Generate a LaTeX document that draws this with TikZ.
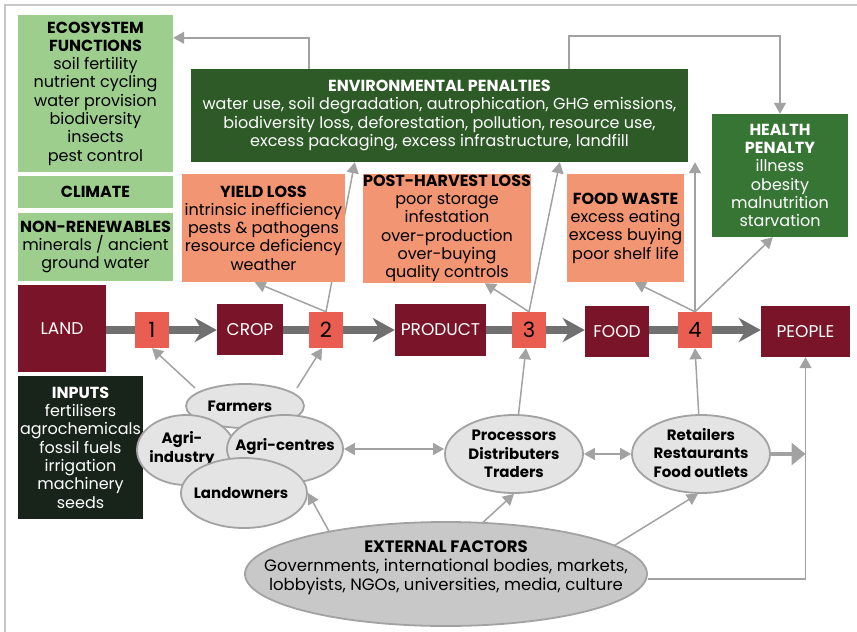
\documentclass[tikz,border=0pt]{standalone}
\usepackage{fontspec}
\setmainfont{Poppins}
\usetikzlibrary{arrows.meta,shapes.geometric,calc}
\pgfdeclarelayer{bg}
\pgfsetlayers{bg,main}

\definecolor{ecogreen}{RGB}{158,206,142}
\definecolor{envgreen}{RGB}{45,90,39}
\definecolor{healthgreen}{RGB}{54,117,52}
\definecolor{losssalmon}{RGB}{242,149,115}
\definecolor{stagered}{RGB}{233,94,80}
\definecolor{maroon}{RGB}{122,20,40}
\definecolor{inputdark}{RGB}{24,36,26}
\definecolor{linkgray}{RGB}{162,162,162}
\definecolor{bandgray}{RGB}{112,112,112}
\definecolor{actorfill}{RGB}{228,228,228}
\definecolor{extfill}{RGB}{200,200,200}
\definecolor{framegray}{RGB}{200,200,200}

\newcommand{\bodyfont}{\fontsize{16}{18.3}\selectfont}
\newcommand{\rowfont}{\fontsize{17}{18}\selectfont}
\newcommand{\numfont}{\fontsize{21}{22}\selectfont}
\newcommand{\actorfont}{\fontsize{15}{18.5}\selectfont\bfseries}

\tikzset{
  panel/.style={inner sep=0pt, align=center, font=\bodyfont},
  stagebox/.style={fill=maroon, text=white, inner sep=0pt, font=\rowfont},
  numbox/.style={fill=stagered, inner sep=0pt, minimum width=34pt, minimum height=36pt, font=\numfont},
  actor/.style={ellipse, draw=linkgray, line width=1.8pt, fill=actorfill, inner sep=0pt},
  actortext/.style={inner sep=0pt, align=center, font=\actorfont},
  link/.style={draw=linkgray, line width=1.5pt, -{Triangle[length=11pt,width=12pt]}},
  twoway/.style={draw=linkgray, line width=1.5pt, {Triangle[length=11pt,width=12pt]}-{Triangle[length=11pt,width=12pt]}},
  band/.style={draw=bandgray, line width=7.5pt},
  bandhead/.style={draw=bandgray, line width=7.5pt, -{Stealth[length=22pt,width=24pt,inset=7pt]}},
}

\begin{document}
\begin{tikzpicture}[x=1pt,y=-1pt]
\useasboundingbox (0,0) rectangle (857,632);
\draw[framegray, line width=1.5pt] (5,640) -- (5,5) -- (860,5);

% resource panels on the left
\node[panel, fill=ecogreen, minimum width=155pt, minimum height=157pt] (eco) at (95.5,93.5)
  {{\bfseries ECOSYSTEM}\\{\bfseries FUNCTIONS}\\soil fertility\\nutrient cycling\\water provision\\biodiversity\\insects\\pest control};
\node[panel, fill=ecogreen, minimum width=155pt, minimum height=32pt] (climate) at (95.5,192)
  {\bfseries CLIMATE};
\node[panel, fill=ecogreen, minimum width=155pt, minimum height=68pt] (nonren) at (95.5,247)
  {{\bfseries NON-RENEWABLES}\\minerals / ancient\\ground water};
\node[panel, fill=inputdark, text=white, minimum width=125pt, minimum height=143pt] (inputs) at (80.5,447.5)
  {{\bfseries INPUTS}\\fertilisers\\agrochemicals\\fossil fuels\\irrigation\\machinery\\seeds};

% penalties
\node[panel, fill=envgreen, text=white, minimum width=497pt, minimum height=93pt] (env) at (439.5,115.5)
  {{\bfseries ENVIRONMENTAL PENALTIES}\\water use, soil degradation, autrophication, GHG emissions,\\biodiversity loss, deforestation, pollution, resource use,\\excess packaging, excess infrastructure, landfill};
\node[panel, fill=healthgreen, text=white, minimum width=136pt, minimum height=123pt] (health) at (780,175.5)
  {{\bfseries HEALTH}\\{\bfseries PENALTY}\\illness\\obesity\\malnutrition\\starvation};

% losses
\node[panel, fill=losssalmon, minimum width=163pt, minimum height=108pt] (yield) at (263.5,228)
  {{\bfseries YIELD LOSS}\\intrinsic inefficiency\\pests \& pathogens\\resource deficiency\\weather};
\node[panel, fill=losssalmon, minimum width=168pt, minimum height=109pt] (post) at (447,228.5)
  {{\bfseries POST-HARVEST LOSS}\\poor storage\\infestation\\over-production\\over-buying\\quality controls};
\node[panel, fill=losssalmon, minimum width=117pt, minimum height=108pt] (waste) at (625.5,228)
  {{\bfseries FOOD WASTE}\\excess eating\\excess buying\\poor shelf life};

% supply chain row
\node[stagebox, minimum width=88pt, minimum height=87pt] (land) at (62,328.5) {LAND};
\node[stagebox, minimum width=66pt, minimum height=51pt] (crop) at (250,329.5) {CROP};
\node[stagebox, minimum width=91pt, minimum height=52pt] (product) at (440.5,330) {PRODUCT};
\node[stagebox, minimum width=64pt, minimum height=51pt] (food) at (617,331.5) {FOOD};
\node[stagebox, minimum width=89pt, minimum height=51pt] (people) at (805.5,331.5) {PEOPLE};
\node[numbox] (n1) at (152,330) {1};
\node[numbox] (n2) at (326,330) {2};
\node[numbox] (n3) at (529,330) {3};
\node[numbox] (n4) at (695,330) {4};

% actors: ellipses of fixed size, text set as a centred label
\node[actor, minimum width=118pt, minimum height=44pt,
      label={[actortext, xshift=-5pt]center:Farmers}] (farmers) at (245,406) {};
\node[actor, minimum width=98pt, minimum height=70pt,
      label={[actortext, xshift=-4pt, yshift=1pt]center:{Agri-\\industry}}] (agriind) at (186,450) {};
\node[actor, minimum width=116pt, minimum height=68pt,
      label={[actortext, yshift=2pt]center:Agri-centres}] (agricen) at (285,449) {};
\node[actor, minimum width=126pt, minimum height=70pt,
      label={[actortext, xshift=-3pt]center:Landowners}] (landown) at (244,493) {};
\node[actor, minimum width=138pt, minimum height=78pt,
      label={[actortext]center:{Processors\\Distributers\\Traders}}] (proc) at (514,454) {};
\node[actor, minimum width=138pt, minimum height=78pt,
      label={[actortext, yshift=1pt]center:{Retailers\\Restaurants\\Food outlets}}] (retail) at (701,454) {};
\node[actor, fill=extfill, minimum width=402pt, minimum height=104pt,
      label={[panel, font=\fontsize{16.5}{19}\selectfont, yshift=6pt]center:{{\bfseries EXTERNAL FACTORS}\\Governments, international bodies, markets,\\lobbyists, NGOs, universities, media, culture}}] (ext) at (446,574) {};

\begin{pgfonlayer}{bg}
  % main flow band
  \draw[band] (land.east |- n1.west) -- (n1.west);
  \draw[bandhead] (n1.east) -- (crop.west |- n1.east);
  \draw[band] (crop.east |- n2.west) -- (n2.west);
  \draw[bandhead] (n2.east) -- (product.west |- n2.east);
  \draw[band] (product.east |- n3.west) -- (n3.west);
  \draw[bandhead] (n3.east) -- (food.west |- n3.east);
  \draw[band] (food.east |- n4.west) -- (n4.west);
  \draw[bandhead] (n4.east) -- (people.west |- n4.east);

  % feedback loops over the top
  \draw[link] ([xshift=118pt]env.north west) |- ([yshift=-23pt]eco.north east);
  \draw[link] ([xshift=378pt]env.north west) |- ([yshift=78pt]health.north) -- (health.north);

  % losses and penalties at each stage
  \draw[link] (n2.north) -- ([xshift=73pt]yield.south west);
  \draw[link] (n2.north) -- ([xshift=164pt]env.south west);
  \draw[link] (n3.north) -- ([xshift=122pt]post.south west);
  \draw[link] (n3.north) -- ([xshift=369pt]env.south west);
  \draw[link] (n4.north) -- ([xshift=68pt]waste.south west);
  \draw[link] (n4.north) -- (env.south -| n4.north);
  \draw[link] (n4.north) -- ([xshift=61pt]health.south west);

  % actors acting on stages
  \draw[link] ([xshift=-50pt,yshift=18pt]farmers.center) -- (n1.south);
  \draw[link] ([xshift=52pt,yshift=18pt]farmers.center) -- ([xshift=-4pt]n2.south);
  \draw[link] (proc.center) -- ([xshift=-3pt]n3.south);
  \draw[link] (retail.center) -- (n4.south);
  \draw[twoway] (agricen.east) -- (agricen.east -| proc.west);
  \draw[twoway] (proc.east) -- (retail.west);
  \draw[draw=linkgray, line width=4pt, -{Triangle[length=14pt,width=22pt]}] (retail.east) -- (retail.east -| people.south);

  % external factors
  \draw[link] ([xshift=-110pt,yshift=30pt]ext.center) -- (landown.east);
  \draw[link] ([xshift=22pt,yshift=38pt]ext.center) -- (proc.south);
  \draw[link] ([xshift=148pt,yshift=16pt]ext.center) -- ([xshift=-3pt]retail.south);
  \draw[link] ([yshift=-5pt]ext.east) -| (people.south);
\end{pgfonlayer}
\end{tikzpicture}
\end{document}
